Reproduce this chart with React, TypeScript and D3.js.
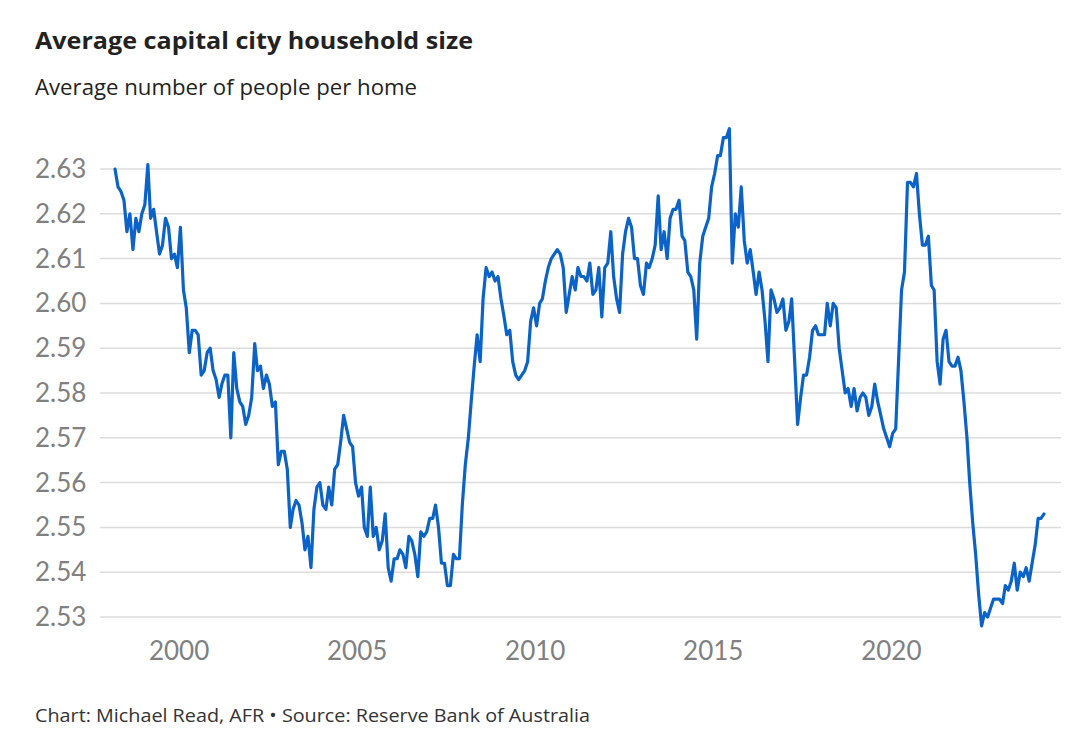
import React from "react";
import * as d3 from "d3";

const TITLE = "Average capital city household size";
const SUBTITLE = "Average number of people per home";
const FOOTER = "Chart: Michael Read, AFR \u2022 Source: Reserve Bank of Australia";

// Monthly series, first observation March 1998
const START_YEAR = 1998;
const START_MONTH = 2; // March (0-based)

const householdSize: number[] = [
  // 1998-03 ..
  2.630, 2.626, 2.625, 2.623, 2.616, 2.620, 2.612, 2.619, 2.616, 2.620,
  2.622, 2.631, 2.619, 2.621, 2.616, 2.611, 2.613, 2.619, 2.617, 2.610,
  2.611, 2.608, 2.617, 2.603, 2.599, 2.589, 2.594, 2.594, 2.593, 2.584,
  2.585, 2.589, 2.590, 2.585, 2.583, 2.579, 2.582, 2.584, 2.584, 2.570,
  2.589,
  2.581, 2.578, 2.577, 2.573, 2.575, 2.579, 2.591, 2.585, 2.586, 2.581,
  2.584, 2.582, 2.577, 2.578, 2.564, 2.567, 2.567, 2.563, 2.550, 2.554,
  2.556, 2.555, 2.551, 2.545, 2.548, 2.541, 2.554, 2.559, 2.560, 2.555,
  2.554, 2.559, 2.555, 2.563, 2.564, 2.569, 2.575, 2.572, 2.569, 2.568,
  2.560, 2.557,
  2.559, 2.550, 2.548, 2.559, 2.548, 2.550, 2.545, 2.547, 2.553, 2.541,
  2.538, 2.543, 2.543, 2.545, 2.544, 2.541, 2.548, 2.547, 2.544, 2.539,
  2.549, 2.548, 2.549, 2.552, 2.552, 2.555, 2.550, 2.542, 2.542, 2.537,
  2.537, 2.544, 2.543, 2.543,
  2.555, 2.564, 2.570, 2.578, 2.586, 2.593, 2.587, 2.601, 2.608, 2.606,
  2.607, 2.605, 2.606, 2.601, 2.597, 2.593, 2.594, 2.587, 2.584, 2.583,
  2.584, 2.585, 2.587, 2.596, 2.599, 2.595, 2.600, 2.601, 2.605, 2.608,
  2.610, 2.611, 2.612, 2.611, 2.608, 2.598,
  2.602, 2.606, 2.603, 2.608, 2.606, 2.606, 2.605, 2.609, 2.602, 2.603,
  2.608, 2.597, 2.608, 2.609, 2.616, 2.606, 2.601, 2.598, 2.611, 2.616,
  2.619, 2.617, 2.610, 2.610, 2.604, 2.602, 2.609, 2.608, 2.610, 2.613,
  2.624, 2.612, 2.616, 2.610, 2.619, 2.621, 2.621, 2.623, 2.615, 2.614,
  2.607, 2.606, 2.603,
  2.592, 2.609, 2.615, 2.617, 2.619, 2.626, 2.629, 2.633, 2.633, 2.637,
  2.637, 2.639, 2.609, 2.620, 2.617, 2.626, 2.614, 2.609, 2.612, 2.607,
  2.602, 2.607, 2.603, 2.596, 2.587, 2.603, 2.601, 2.598, 2.599, 2.601,
  2.594, 2.596, 2.601, 2.587, 2.573, 2.579, 2.584, 2.584, 2.588, 2.594,
  2.595, 2.593, 2.593, 2.593,
  2.600, 2.595, 2.600, 2.599, 2.590, 2.585, 2.580, 2.581, 2.577, 2.581,
  2.576, 2.579, 2.580, 2.579, 2.575, 2.577, 2.582, 2.578, 2.575, 2.572,
  2.570, 2.568, 2.571, 2.572, 2.587, 2.603, 2.607, 2.627, 2.627, 2.626,
  2.629, 2.620, 2.613, 2.613, 2.615, 2.604, 2.603,
  2.587, 2.582, 2.592, 2.594, 2.587, 2.586, 2.586, 2.588, 2.585, 2.578,
  2.570, 2.560, 2.551, 2.544, 2.535, 2.528, 2.531, 2.530, 2.532, 2.534,
  2.534, 2.534, 2.533, 2.537, 2.536, 2.538, 2.542, 2.536, 2.540, 2.539,
  2.541, 2.538, 2.542, 2.546, 2.552, 2.552, 2.553,
];

const yTicks: number[] = [2.53, 2.54, 2.55, 2.56, 2.57, 2.58, 2.59, 2.6, 2.61, 2.62, 2.63];
const xTickYears: number[] = [2000, 2005, 2010, 2015, 2020];

const W = 1080;
const H = 744;
const FONT = "Lato, 'Open Sans', sans-serif";
const HEAD_FONT = "'Open Sans', Lato, sans-serif";

export default function App() {
  const data = householdSize.map((v, i) => ({
    date: new Date(START_YEAR, START_MONTH + i, 15),
    value: v,
  }));

  const x = d3
    .scaleTime()
    .domain(d3.extent(data, (d) => d.date) as [Date, Date])
    .range([115, 1044]);
  const y = d3.scaleLinear().domain([2.53, 2.63]).range([617, 169]);

  const line = d3
    .line<{ date: Date; value: number }>()
    .x((d) => x(d.date))
    .y((d) => y(d.value));

  return (
    <div style={{ position: "absolute", left: 0, top: 0 }}>
      <svg width={W} height={H} style={{ display: "block", background: "#fff" }}>
        <rect x={0} y={0} width={W} height={H} fill="#fff" />
        <text
          x={35}
          y={49}
          fontFamily={HEAD_FONT}
          fontWeight={700}
          fontSize={23}
          fill="#222"
          textLength={438}
          lengthAdjust="spacingAndGlyphs"
        >
          {TITLE}
        </text>
        <text
          x={35}
          y={95}
          fontFamily={HEAD_FONT}
          fontSize={21}
          fill="#222"
          textLength={382}
          lengthAdjust="spacingAndGlyphs"
        >
          {SUBTITLE}
        </text>

        {yTicks.map((t) => (
          <g key={t}>
            <line x1={100} x2={1061} y1={y(t)} y2={y(t)} stroke="#dcdcdc" strokeWidth={1.5} />
            <text x={35} y={y(t) + 9} fontFamily={FONT} fontSize={26} fill="#808080">
              {t.toFixed(2)}
            </text>
          </g>
        ))}

        {xTickYears.map((yr) => (
          <text
            key={yr}
            x={x(new Date(yr, 0, 1))}
            y={660}
            textAnchor="middle"
            fontFamily={FONT}
            fontSize={26}
            fill="#808080"
          >
            {yr}
          </text>
        ))}

        <path
          d={line(data) || ""}
          fill="none"
          stroke="#0b63c8"
          strokeWidth={3.2}
          strokeLinejoin="round"
          strokeLinecap="round"
        />

        <text
          x={35}
          y={722}
          fontFamily={HEAD_FONT}
          fontSize={18}
          fill="#333"
          textLength={555}
          lengthAdjust="spacingAndGlyphs"
        >
          {FOOTER}
        </text>
      </svg>
    </div>
  );
}
